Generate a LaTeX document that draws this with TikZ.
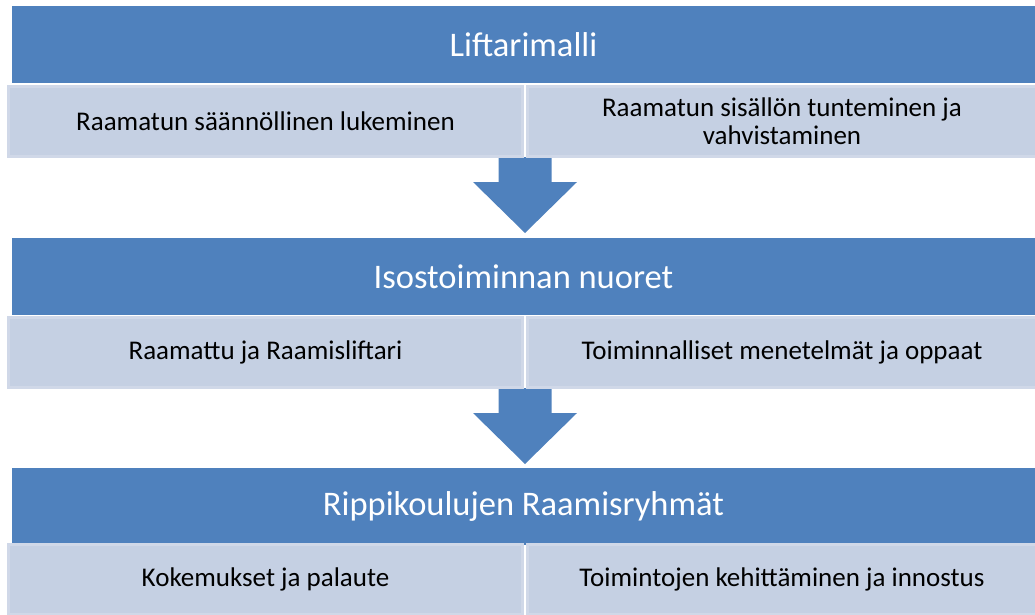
\documentclass[tikz,border=0pt]{standalone}
\usepackage{fontspec}
\setmainfont{Carlito}
\definecolor{barblue}{RGB}{79,129,189}
\definecolor{boxfill}{RGB}{197,208,227}
\definecolor{boxedge}{RGB}{208,216,232}
\begin{document}
\begin{tikzpicture}
[x=1pt,y=-1pt,
bar/.style={fill=barblue,text=white,minimum width=1023pt,minimum height=77pt,inner sep=0pt,font=\fontsize{34.5}{40}\selectfont},
sub/.style={fill=boxfill,draw=boxedge,line width=3pt,minimum height=70pt,inner sep=0pt,align=center,font=\fontsize{27}{28}\selectfont},
left sub/.style={sub,minimum width=514pt},
right sub/.style={sub,minimum width=509pt},
downarrow/.style={fill=barblue}]
\useasboundingbox (0,0) rectangle (1035,615);
% arrows between the levels
\foreach \y in {157,388}
  \fill[downarrow] (498.5,\y) -- (551.5,\y) -- (551.5,\y+25) -- (577,\y+25)
    -- (525,\y+76) -- (473,\y+25) -- (498.5,\y+25) -- cycle;
% level 1
\node[bar] (malli) at (523.5,44.5) {Liftarimalli};
\node[left sub] (lukeminen) at (265.5,121.5) {Raamatun säännöllinen lukeminen};
\node[right sub] (tunteminen) at (782,121.5) {Raamatun sisällön tunteminen ja\\vahvistaminen};
% level 2
\node[bar] (nuoret) at (523.5,276.5) {Isostoiminnan nuoret};
\node[left sub] (raamattu) at (265.5,352.5) {Raamattu ja Raamisliftari};
\node[right sub] (menetelmat) at (782,352.5) {Toiminnalliset menetelmät ja oppaat};
% level 3
\node[bar] (ryhmat) at (523.5,506) {Rippikoulujen Raamisryhmät};
\node[left sub] (kokemukset) at (265.5,579) {Kokemukset ja palaute};
\node[right sub] (kehittaminen) at (782,579) {Toimintojen kehittäminen ja innostus};
\end{tikzpicture}
\end{document}
